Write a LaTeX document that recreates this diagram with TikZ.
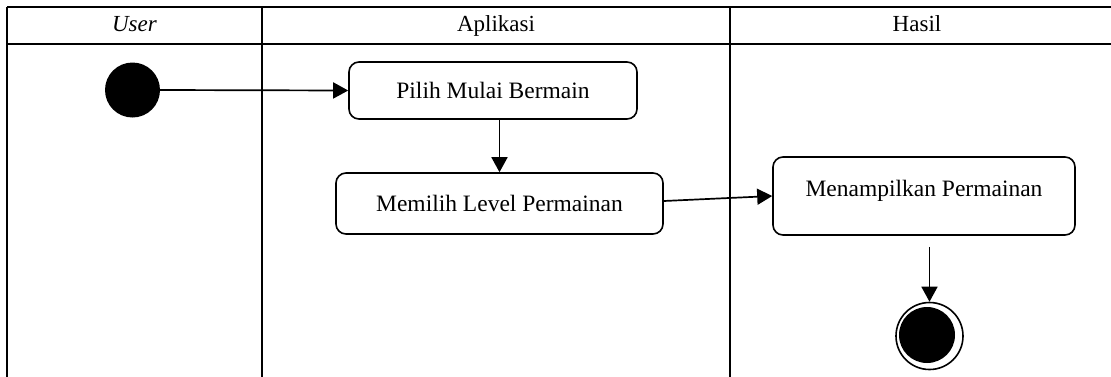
\documentclass[tikz,border=0pt]{standalone}
\usepackage{fontspec}
\setmainfont{Liberation Serif}
\usetikzlibrary{arrows.meta,calc}
\tikzset{
  lane/.style={line width=2pt},
  actbox/.style={draw, line width=1.6pt, rounded corners=10pt, inner sep=0pt,
    font=\fontsize{23.5}{28}\selectfont},
  head/.style={font=\fontsize{23}{28}\selectfont, inner sep=0pt, anchor=base},
  flow/.style={line width=1.7pt, -{Triangle[length=15pt,width=16pt]}},
}
\begin{document}
\begin{tikzpicture}[x=1pt,y=-1pt]
\useasboundingbox (0,0) rectangle (1111,376);
\fill[white] (0,0) rectangle (1111,376);
% swimlane frame
\begin{scope}
\clip (0,0) rectangle (1111,376);
\draw[lane] (7,7) -- (1120,7);
\draw[lane] (7,43.5) -- (1120,43.5);
\draw[lane] (7,7) -- (7,390);
\draw[lane] (262,7) -- (262,390);
\draw[lane] (730,7) -- (730,390);
\end{scope}
% lane titles
\node[head] (tuser) at (134.5,31) {\itshape User};
\node[head] (tapp)  at (496,31) {Aplikasi};
\node[head] (thas)  at (917,31) {Hasil};
% activities
\node[actbox, minimum width=288pt, minimum height=57pt] (pilih) at (493,90.5) {Pilih Mulai Bermain};
\node[actbox, minimum width=327pt, minimum height=61pt] (memilih) at (499.5,203.5) {Memilih Level Permainan};
\node[actbox, minimum width=302pt, minimum height=78pt, text height=16pt, text depth=16pt] (tampil) at (924,196) {Menampilkan Permainan};
% start and end
\node[circle, fill=black, minimum size=55pt, inner sep=0pt] (start) at (132.5,90) {};
\node[circle, draw, line width=1.6pt, minimum size=67pt, inner sep=0pt] (final) at (929.5,336) {};
\fill[black] (927,335) circle (28pt);
% transitions
\draw[flow] (start.east) -- (pilih.west);
\draw[flow] (memilih.north |- pilih.south) -- (memilih.north);
\draw[flow] ([yshift=2.5pt]memilih.east) -- (tampil.west);
\coordinate (endfrom) at ([yshift=-11pt]final.north |- tampil.south);
\draw[flow] (endfrom) -- (final.north);
\end{tikzpicture}
\end{document}
